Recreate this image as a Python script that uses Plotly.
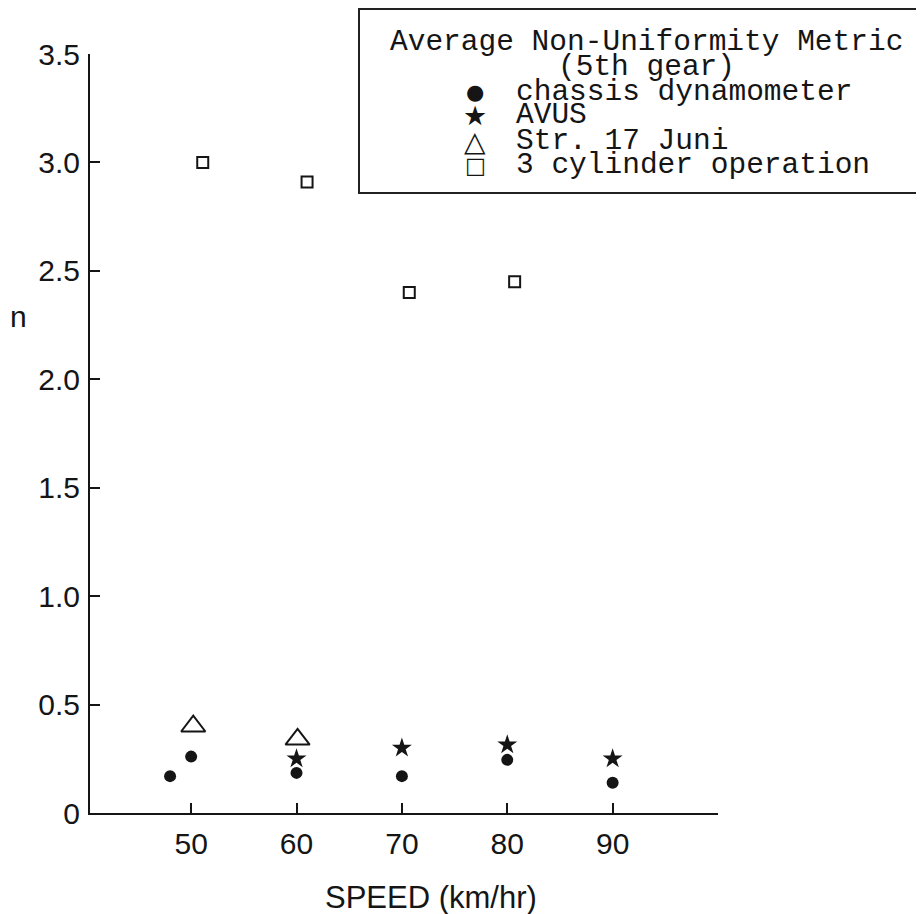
import plotly.graph_objects as go

# ---- data ----
chassis_x = [48, 50, 60, 70, 80, 90]
chassis_y = [0.17, 0.26, 0.185, 0.17, 0.245, 0.14]

avus_x = [60, 70, 80, 90]
avus_y = [0.25, 0.30, 0.315, 0.25]

str17_x = [50.2, 60.1]
str17_y = [0.40, 0.34]

cyl3_x = [51.1, 61.0, 70.7, 80.7]
cyl3_y = [3.00, 2.91, 2.40, 2.45]

x_tickvals = [50, 60, 70, 80, 90, 100]
x_ticktext = ["50", "60", "70", "80", "90", ""]
y_tickvals = [0, 0.5, 1.0, 1.5, 2.0, 2.5, 3.0, 3.5]
y_ticktext = ["0", "0.5", "1.0", "1.5", "2.0", "2.5", "3.0", "3.5"]

legend_title = ["Average Non-Uniformity Metric", "(5th gear)"]
legend_labels = ["chassis dynamometer", "AVUS", "Str. 17 Juni", "3 cylinder operation"]
legend_glyphs = ["\u25CF", "\u2605", "\u25B3", "\u25A1"]

# ---- layout geometry (window pixels; page body has an 8px margin) ----
OFF = 8
W, H = 924 - OFF, 914 - OFF
PLOT_L, PLOT_R, PLOT_T, PLOT_B = 90, 718, 54, 813
L = PLOT_L - OFF
T = PLOT_T - OFF
R = 924 - PLOT_R
B = 914 - PLOT_B
PW = PLOT_R - PLOT_L
PH = PLOT_B - PLOT_T


def px(x):
    return (x - PLOT_L) / PW


def py(y):
    return (PLOT_B - y) / PH


INK = "#151515"

fig = go.Figure()
fig.add_trace(go.Scatter(x=chassis_x, y=chassis_y, mode="markers", name="chassis dynamometer",
                         marker=dict(symbol="circle", size=12, color=INK)))
fig.add_trace(go.Scatter(x=avus_x, y=avus_y, mode="markers", name="AVUS",
                         marker=dict(symbol="star", size=15, color=INK)))
fig.add_trace(go.Scatter(x=str17_x, y=str17_y, mode="markers", name="Str. 17 Juni",
                         marker=dict(symbol="triangle-up-open", size=21, color=INK,
                                     line=dict(width=2, color=INK))))
fig.add_trace(go.Scatter(x=cyl3_x, y=cyl3_y, mode="markers", name="3 cylinder operation",
                         marker=dict(symbol="square-open", size=11, color=INK,
                                     line=dict(width=2, color=INK))))

tickfont = dict(family="Liberation Sans, Arial, sans-serif", size=30, color=INK)

fig.update_xaxes(range=[40.4, 100], showline=True, linewidth=2, linecolor=INK,
                 showgrid=False, zeroline=False, ticks="inside", ticklen=10, tickwidth=2,
                 tickcolor=INK, tickvals=x_tickvals, ticktext=x_ticktext,
                 tickfont=tickfont, ticklabelstandoff=3)
fig.update_yaxes(range=[0, 3.5], showline=True, linewidth=2, linecolor=INK,
                 showgrid=False, zeroline=False, ticks="inside", ticklen=10, tickwidth=2,
                 tickcolor=INK, tickvals=y_tickvals, ticktext=y_ticktext,
                 tickfont=tickfont, ticklabelstandoff=2)

annotations = []
# axis titles
annotations.append(dict(x=px(431), y=py(897), xref="paper", yref="paper", text="SPEED (km/hr)",
                        showarrow=False, xanchor="center", yanchor="middle",
                        font=dict(family="Liberation Sans, Arial, sans-serif", size=31, color=INK)))
annotations.append(dict(x=px(18), y=py(316), xref="paper", yref="paper", text="n",
                        showarrow=False, xanchor="center", yanchor="middle",
                        font=dict(family="Liberation Sans, Arial, sans-serif", size=30, color=INK)))

mono = dict(family="Liberation Mono, Courier New, monospace", size=29.5, color=INK)
title_y = [42, 67]
for txt, yy in zip(legend_title, title_y):
    annotations.append(dict(x=px(646), y=py(yy), xref="paper", yref="paper", text=txt,
                            showarrow=False, xanchor="center", yanchor="middle", font=mono))
item_y = [92, 115, 141, 165]
glyph_sizes = [21, 27, 28, 22]
for lab, gl, gs, yy in zip(legend_labels, legend_glyphs, glyph_sizes, item_y):
    annotations.append(dict(x=px(514), y=py(yy), xref="paper", yref="paper", text=lab,
                            showarrow=False, xanchor="left", yanchor="middle", font=mono))
    annotations.append(dict(x=px(475), y=py(yy), xref="paper", yref="paper", text=gl,
                            showarrow=False, xanchor="center", yanchor="middle",
                            font=dict(family="DejaVu Sans", size=gs, color=INK)))

fig.update_layout(
    width=W, height=H,
    margin=dict(l=L, r=R, t=T, b=B, autoexpand=False),
    paper_bgcolor="white", plot_bgcolor="white",
    showlegend=False,
    annotations=annotations,
    shapes=[dict(type="rect", xref="paper", yref="paper",
                 x0=px(359), x1=px(945), y0=py(193), y1=py(9),
                 line=dict(color="#222222", width=2), fillcolor="rgba(0,0,0,0)")],
)

fig.write_html("out.html")
